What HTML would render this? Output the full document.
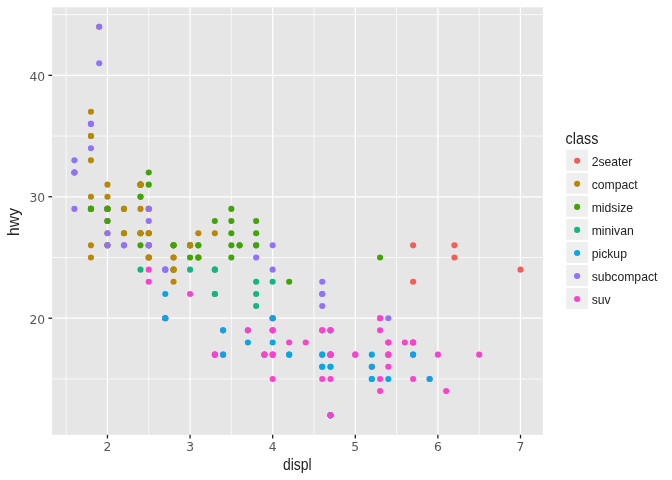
<!DOCTYPE html>
<html><head><meta charset="utf-8"><title>mpg scatter</title>
<style>html,body{margin:0;padding:0;background:#fff}svg{display:block;will-change:transform}</style></head>
<body>
<svg width="672" height="480" viewBox="0 0 672 480" font-family='"Liberation Sans", Arial, sans-serif'>
<rect width="672" height="480" fill="#fff"/>
<rect x="52.1" y="7.33" width="490.70" height="427.47" fill="#E6E6E6"/>
<g stroke="#fff" stroke-width="0.75" fill="none">
<line x1="52.1" x2="542.8" y1="378.94" y2="378.94"/>
<line x1="52.1" x2="542.8" y1="257.50" y2="257.50"/>
<line x1="52.1" x2="542.8" y1="136.06" y2="136.06"/>
<line x1="52.1" x2="542.8" y1="14.62" y2="14.62"/>
<line y1="7.33" y2="434.8" x1="66.14" x2="66.14"/>
<line y1="7.33" y2="434.8" x1="148.75" x2="148.75"/>
<line y1="7.33" y2="434.8" x1="231.36" x2="231.36"/>
<line y1="7.33" y2="434.8" x1="313.97" x2="313.97"/>
<line y1="7.33" y2="434.8" x1="396.58" x2="396.58"/>
<line y1="7.33" y2="434.8" x1="479.19" x2="479.19"/>
</g>
<g stroke="#fff" stroke-width="1.25" fill="none">
<line x1="52.1" x2="542.8" y1="318.22" y2="318.22"/>
<line x1="52.1" x2="542.8" y1="196.78" y2="196.78"/>
<line x1="52.1" x2="542.8" y1="75.34" y2="75.34"/>
<line y1="7.33" y2="434.8" x1="107.45" x2="107.45"/>
<line y1="7.33" y2="434.8" x1="190.06" x2="190.06"/>
<line y1="7.33" y2="434.8" x1="272.67" x2="272.67"/>
<line y1="7.33" y2="434.8" x1="355.28" x2="355.28"/>
<line y1="7.33" y2="434.8" x1="437.89" x2="437.89"/>
<line y1="7.33" y2="434.8" x1="520.50" x2="520.50"/>
</g>
<g stroke="none">
<circle cx="90.93" cy="208.92" r="3.05" fill="#B78800"/>
<circle cx="90.93" cy="208.92" r="3.05" fill="#B78800"/>
<circle cx="107.45" cy="184.63" r="3.05" fill="#B78800"/>
<circle cx="107.45" cy="196.78" r="3.05" fill="#B78800"/>
<circle cx="173.54" cy="245.35" r="3.05" fill="#B78800"/>
<circle cx="173.54" cy="245.35" r="3.05" fill="#B78800"/>
<circle cx="198.32" cy="233.21" r="3.05" fill="#B78800"/>
<circle cx="90.93" cy="245.35" r="3.05" fill="#B78800"/>
<circle cx="90.93" cy="257.50" r="3.05" fill="#B78800"/>
<circle cx="107.45" cy="221.06" r="3.05" fill="#B78800"/>
<circle cx="107.45" cy="233.21" r="3.05" fill="#B78800"/>
<circle cx="173.54" cy="257.50" r="3.05" fill="#B78800"/>
<circle cx="173.54" cy="257.50" r="3.05" fill="#B78800"/>
<circle cx="198.32" cy="257.50" r="3.05" fill="#B78800"/>
<circle cx="198.32" cy="257.50" r="3.05" fill="#B78800"/>
<circle cx="173.54" cy="269.64" r="3.05" fill="#3FA500"/>
<circle cx="198.32" cy="257.50" r="3.05" fill="#3FA500"/>
<circle cx="289.19" cy="281.79" r="3.05" fill="#3FA500"/>
<circle cx="380.06" cy="318.22" r="3.05" fill="#F943CA"/>
<circle cx="380.06" cy="378.94" r="3.05" fill="#F943CA"/>
<circle cx="380.06" cy="318.22" r="3.05" fill="#F943CA"/>
<circle cx="413.10" cy="354.65" r="3.05" fill="#F943CA"/>
<circle cx="437.89" cy="354.65" r="3.05" fill="#F943CA"/>
<circle cx="413.10" cy="245.35" r="3.05" fill="#F25C59"/>
<circle cx="413.10" cy="281.79" r="3.05" fill="#F25C59"/>
<circle cx="454.41" cy="245.35" r="3.05" fill="#F25C59"/>
<circle cx="454.41" cy="257.50" r="3.05" fill="#F25C59"/>
<circle cx="520.50" cy="269.64" r="3.05" fill="#F25C59"/>
<circle cx="380.06" cy="330.36" r="3.05" fill="#F943CA"/>
<circle cx="380.06" cy="391.08" r="3.05" fill="#F943CA"/>
<circle cx="413.10" cy="378.94" r="3.05" fill="#F943CA"/>
<circle cx="479.19" cy="354.65" r="3.05" fill="#F943CA"/>
<circle cx="140.49" cy="233.21" r="3.05" fill="#3FA500"/>
<circle cx="140.49" cy="196.78" r="3.05" fill="#3FA500"/>
<circle cx="198.32" cy="245.35" r="3.05" fill="#3FA500"/>
<circle cx="231.36" cy="208.92" r="3.05" fill="#3FA500"/>
<circle cx="239.62" cy="245.35" r="3.05" fill="#3FA500"/>
<circle cx="140.49" cy="269.64" r="3.05" fill="#14B483"/>
<circle cx="190.06" cy="269.64" r="3.05" fill="#14B483"/>
<circle cx="214.84" cy="293.93" r="3.05" fill="#14B483"/>
<circle cx="214.84" cy="293.93" r="3.05" fill="#14B483"/>
<circle cx="214.84" cy="269.64" r="3.05" fill="#14B483"/>
<circle cx="214.84" cy="269.64" r="3.05" fill="#14B483"/>
<circle cx="214.84" cy="354.65" r="3.05" fill="#14B483"/>
<circle cx="256.15" cy="293.93" r="3.05" fill="#14B483"/>
<circle cx="256.15" cy="306.07" r="3.05" fill="#14B483"/>
<circle cx="256.15" cy="281.79" r="3.05" fill="#14B483"/>
<circle cx="272.67" cy="281.79" r="3.05" fill="#14B483"/>
<circle cx="247.88" cy="330.36" r="3.05" fill="#08A6E5"/>
<circle cx="247.88" cy="342.51" r="3.05" fill="#08A6E5"/>
<circle cx="264.41" cy="354.65" r="3.05" fill="#08A6E5"/>
<circle cx="264.41" cy="354.65" r="3.05" fill="#08A6E5"/>
<circle cx="330.49" cy="330.36" r="3.05" fill="#08A6E5"/>
<circle cx="330.49" cy="330.36" r="3.05" fill="#08A6E5"/>
<circle cx="330.49" cy="415.37" r="3.05" fill="#08A6E5"/>
<circle cx="371.80" cy="354.65" r="3.05" fill="#08A6E5"/>
<circle cx="371.80" cy="378.94" r="3.05" fill="#08A6E5"/>
<circle cx="264.41" cy="354.65" r="3.05" fill="#F943CA"/>
<circle cx="330.49" cy="354.65" r="3.05" fill="#F943CA"/>
<circle cx="330.49" cy="415.37" r="3.05" fill="#F943CA"/>
<circle cx="330.49" cy="354.65" r="3.05" fill="#F943CA"/>
<circle cx="371.80" cy="366.79" r="3.05" fill="#F943CA"/>
<circle cx="413.10" cy="342.51" r="3.05" fill="#F943CA"/>
<circle cx="429.63" cy="378.94" r="3.05" fill="#F943CA"/>
<circle cx="330.49" cy="366.79" r="3.05" fill="#08A6E5"/>
<circle cx="330.49" cy="415.37" r="3.05" fill="#08A6E5"/>
<circle cx="330.49" cy="354.65" r="3.05" fill="#08A6E5"/>
<circle cx="330.49" cy="354.65" r="3.05" fill="#08A6E5"/>
<circle cx="330.49" cy="366.79" r="3.05" fill="#08A6E5"/>
<circle cx="330.49" cy="415.37" r="3.05" fill="#08A6E5"/>
<circle cx="371.80" cy="378.94" r="3.05" fill="#08A6E5"/>
<circle cx="371.80" cy="366.79" r="3.05" fill="#08A6E5"/>
<circle cx="413.10" cy="354.65" r="3.05" fill="#08A6E5"/>
<circle cx="429.63" cy="378.94" r="3.05" fill="#08A6E5"/>
<circle cx="322.23" cy="354.65" r="3.05" fill="#F943CA"/>
<circle cx="388.32" cy="354.65" r="3.05" fill="#F943CA"/>
<circle cx="388.32" cy="342.51" r="3.05" fill="#F943CA"/>
<circle cx="272.67" cy="354.65" r="3.05" fill="#F943CA"/>
<circle cx="272.67" cy="330.36" r="3.05" fill="#F943CA"/>
<circle cx="272.67" cy="354.65" r="3.05" fill="#F943CA"/>
<circle cx="272.67" cy="330.36" r="3.05" fill="#F943CA"/>
<circle cx="322.23" cy="330.36" r="3.05" fill="#F943CA"/>
<circle cx="355.28" cy="354.65" r="3.05" fill="#F943CA"/>
<circle cx="289.19" cy="354.65" r="3.05" fill="#08A6E5"/>
<circle cx="289.19" cy="354.65" r="3.05" fill="#08A6E5"/>
<circle cx="322.23" cy="366.79" r="3.05" fill="#08A6E5"/>
<circle cx="322.23" cy="366.79" r="3.05" fill="#08A6E5"/>
<circle cx="322.23" cy="354.65" r="3.05" fill="#08A6E5"/>
<circle cx="388.32" cy="378.94" r="3.05" fill="#08A6E5"/>
<circle cx="388.32" cy="354.65" r="3.05" fill="#08A6E5"/>
<circle cx="256.15" cy="245.35" r="3.05" fill="#9072FF"/>
<circle cx="256.15" cy="257.50" r="3.05" fill="#9072FF"/>
<circle cx="272.67" cy="245.35" r="3.05" fill="#9072FF"/>
<circle cx="272.67" cy="269.64" r="3.05" fill="#9072FF"/>
<circle cx="322.23" cy="306.07" r="3.05" fill="#9072FF"/>
<circle cx="322.23" cy="293.93" r="3.05" fill="#9072FF"/>
<circle cx="322.23" cy="281.79" r="3.05" fill="#9072FF"/>
<circle cx="322.23" cy="293.93" r="3.05" fill="#9072FF"/>
<circle cx="388.32" cy="318.22" r="3.05" fill="#9072FF"/>
<circle cx="74.40" cy="160.34" r="3.05" fill="#9072FF"/>
<circle cx="74.40" cy="172.49" r="3.05" fill="#9072FF"/>
<circle cx="74.40" cy="172.49" r="3.05" fill="#9072FF"/>
<circle cx="74.40" cy="208.92" r="3.05" fill="#9072FF"/>
<circle cx="74.40" cy="172.49" r="3.05" fill="#9072FF"/>
<circle cx="90.93" cy="148.20" r="3.05" fill="#9072FF"/>
<circle cx="90.93" cy="123.91" r="3.05" fill="#9072FF"/>
<circle cx="90.93" cy="123.91" r="3.05" fill="#9072FF"/>
<circle cx="107.45" cy="208.92" r="3.05" fill="#9072FF"/>
<circle cx="140.49" cy="245.35" r="3.05" fill="#3FA500"/>
<circle cx="140.49" cy="233.21" r="3.05" fill="#3FA500"/>
<circle cx="140.49" cy="196.78" r="3.05" fill="#3FA500"/>
<circle cx="140.49" cy="184.63" r="3.05" fill="#3FA500"/>
<circle cx="148.75" cy="245.35" r="3.05" fill="#3FA500"/>
<circle cx="148.75" cy="245.35" r="3.05" fill="#3FA500"/>
<circle cx="214.84" cy="221.06" r="3.05" fill="#3FA500"/>
<circle cx="107.45" cy="245.35" r="3.05" fill="#9072FF"/>
<circle cx="107.45" cy="208.92" r="3.05" fill="#9072FF"/>
<circle cx="107.45" cy="221.06" r="3.05" fill="#9072FF"/>
<circle cx="107.45" cy="233.21" r="3.05" fill="#9072FF"/>
<circle cx="165.27" cy="269.64" r="3.05" fill="#9072FF"/>
<circle cx="165.27" cy="269.64" r="3.05" fill="#9072FF"/>
<circle cx="165.27" cy="269.64" r="3.05" fill="#9072FF"/>
<circle cx="190.06" cy="293.93" r="3.05" fill="#F943CA"/>
<circle cx="247.88" cy="330.36" r="3.05" fill="#F943CA"/>
<circle cx="272.67" cy="318.22" r="3.05" fill="#F943CA"/>
<circle cx="330.49" cy="354.65" r="3.05" fill="#F943CA"/>
<circle cx="330.49" cy="415.37" r="3.05" fill="#F943CA"/>
<circle cx="330.49" cy="330.36" r="3.05" fill="#F943CA"/>
<circle cx="413.10" cy="342.51" r="3.05" fill="#F943CA"/>
<circle cx="446.15" cy="391.08" r="3.05" fill="#F943CA"/>
<circle cx="272.67" cy="378.94" r="3.05" fill="#F943CA"/>
<circle cx="289.19" cy="342.51" r="3.05" fill="#F943CA"/>
<circle cx="305.71" cy="342.51" r="3.05" fill="#F943CA"/>
<circle cx="322.23" cy="378.94" r="3.05" fill="#F943CA"/>
<circle cx="388.32" cy="354.65" r="3.05" fill="#F943CA"/>
<circle cx="388.32" cy="366.79" r="3.05" fill="#F943CA"/>
<circle cx="388.32" cy="342.51" r="3.05" fill="#F943CA"/>
<circle cx="272.67" cy="354.65" r="3.05" fill="#F943CA"/>
<circle cx="272.67" cy="330.36" r="3.05" fill="#F943CA"/>
<circle cx="322.23" cy="330.36" r="3.05" fill="#F943CA"/>
<circle cx="355.28" cy="354.65" r="3.05" fill="#F943CA"/>
<circle cx="140.49" cy="208.92" r="3.05" fill="#B78800"/>
<circle cx="140.49" cy="233.21" r="3.05" fill="#B78800"/>
<circle cx="148.75" cy="184.63" r="3.05" fill="#3FA500"/>
<circle cx="148.75" cy="172.49" r="3.05" fill="#3FA500"/>
<circle cx="231.36" cy="233.21" r="3.05" fill="#3FA500"/>
<circle cx="231.36" cy="245.35" r="3.05" fill="#3FA500"/>
<circle cx="190.06" cy="245.35" r="3.05" fill="#3FA500"/>
<circle cx="190.06" cy="257.50" r="3.05" fill="#3FA500"/>
<circle cx="231.36" cy="257.50" r="3.05" fill="#3FA500"/>
<circle cx="214.84" cy="354.65" r="3.05" fill="#F943CA"/>
<circle cx="214.84" cy="354.65" r="3.05" fill="#F943CA"/>
<circle cx="272.67" cy="318.22" r="3.05" fill="#F943CA"/>
<circle cx="404.84" cy="342.51" r="3.05" fill="#F943CA"/>
<circle cx="198.32" cy="245.35" r="3.05" fill="#3FA500"/>
<circle cx="256.15" cy="245.35" r="3.05" fill="#3FA500"/>
<circle cx="256.15" cy="233.21" r="3.05" fill="#3FA500"/>
<circle cx="256.15" cy="221.06" r="3.05" fill="#3FA500"/>
<circle cx="380.06" cy="257.50" r="3.05" fill="#3FA500"/>
<circle cx="148.75" cy="257.50" r="3.05" fill="#F943CA"/>
<circle cx="148.75" cy="269.64" r="3.05" fill="#F943CA"/>
<circle cx="148.75" cy="233.21" r="3.05" fill="#F943CA"/>
<circle cx="148.75" cy="257.50" r="3.05" fill="#F943CA"/>
<circle cx="148.75" cy="245.35" r="3.05" fill="#F943CA"/>
<circle cx="148.75" cy="281.79" r="3.05" fill="#F943CA"/>
<circle cx="123.97" cy="245.35" r="3.05" fill="#9072FF"/>
<circle cx="123.97" cy="245.35" r="3.05" fill="#9072FF"/>
<circle cx="148.75" cy="245.35" r="3.05" fill="#9072FF"/>
<circle cx="148.75" cy="245.35" r="3.05" fill="#9072FF"/>
<circle cx="148.75" cy="257.50" r="3.05" fill="#B78800"/>
<circle cx="148.75" cy="233.21" r="3.05" fill="#B78800"/>
<circle cx="148.75" cy="257.50" r="3.05" fill="#B78800"/>
<circle cx="148.75" cy="233.21" r="3.05" fill="#B78800"/>
<circle cx="165.27" cy="318.22" r="3.05" fill="#F943CA"/>
<circle cx="165.27" cy="318.22" r="3.05" fill="#F943CA"/>
<circle cx="223.10" cy="330.36" r="3.05" fill="#F943CA"/>
<circle cx="223.10" cy="354.65" r="3.05" fill="#F943CA"/>
<circle cx="272.67" cy="318.22" r="3.05" fill="#F943CA"/>
<circle cx="330.49" cy="354.65" r="3.05" fill="#F943CA"/>
<circle cx="123.97" cy="208.92" r="3.05" fill="#3FA500"/>
<circle cx="123.97" cy="233.21" r="3.05" fill="#3FA500"/>
<circle cx="140.49" cy="184.63" r="3.05" fill="#3FA500"/>
<circle cx="140.49" cy="184.63" r="3.05" fill="#3FA500"/>
<circle cx="190.06" cy="245.35" r="3.05" fill="#3FA500"/>
<circle cx="190.06" cy="245.35" r="3.05" fill="#3FA500"/>
<circle cx="231.36" cy="221.06" r="3.05" fill="#3FA500"/>
<circle cx="123.97" cy="233.21" r="3.05" fill="#B78800"/>
<circle cx="123.97" cy="208.92" r="3.05" fill="#B78800"/>
<circle cx="140.49" cy="184.63" r="3.05" fill="#B78800"/>
<circle cx="140.49" cy="184.63" r="3.05" fill="#B78800"/>
<circle cx="190.06" cy="245.35" r="3.05" fill="#B78800"/>
<circle cx="190.06" cy="245.35" r="3.05" fill="#B78800"/>
<circle cx="214.84" cy="233.21" r="3.05" fill="#B78800"/>
<circle cx="90.93" cy="196.78" r="3.05" fill="#B78800"/>
<circle cx="90.93" cy="160.34" r="3.05" fill="#B78800"/>
<circle cx="90.93" cy="136.06" r="3.05" fill="#B78800"/>
<circle cx="90.93" cy="111.77" r="3.05" fill="#B78800"/>
<circle cx="90.93" cy="136.06" r="3.05" fill="#B78800"/>
<circle cx="330.49" cy="378.94" r="3.05" fill="#F943CA"/>
<circle cx="413.10" cy="342.51" r="3.05" fill="#F943CA"/>
<circle cx="165.27" cy="318.22" r="3.05" fill="#08A6E5"/>
<circle cx="165.27" cy="318.22" r="3.05" fill="#08A6E5"/>
<circle cx="165.27" cy="293.93" r="3.05" fill="#08A6E5"/>
<circle cx="223.10" cy="354.65" r="3.05" fill="#08A6E5"/>
<circle cx="223.10" cy="330.36" r="3.05" fill="#08A6E5"/>
<circle cx="272.67" cy="342.51" r="3.05" fill="#08A6E5"/>
<circle cx="272.67" cy="318.22" r="3.05" fill="#08A6E5"/>
<circle cx="107.45" cy="208.92" r="3.05" fill="#B78800"/>
<circle cx="107.45" cy="245.35" r="3.05" fill="#B78800"/>
<circle cx="107.45" cy="208.92" r="3.05" fill="#B78800"/>
<circle cx="107.45" cy="208.92" r="3.05" fill="#B78800"/>
<circle cx="173.54" cy="269.64" r="3.05" fill="#B78800"/>
<circle cx="99.19" cy="26.76" r="3.05" fill="#B78800"/>
<circle cx="107.45" cy="208.92" r="3.05" fill="#B78800"/>
<circle cx="107.45" cy="245.35" r="3.05" fill="#B78800"/>
<circle cx="107.45" cy="208.92" r="3.05" fill="#B78800"/>
<circle cx="107.45" cy="208.92" r="3.05" fill="#B78800"/>
<circle cx="148.75" cy="208.92" r="3.05" fill="#B78800"/>
<circle cx="148.75" cy="208.92" r="3.05" fill="#B78800"/>
<circle cx="173.54" cy="281.79" r="3.05" fill="#B78800"/>
<circle cx="173.54" cy="269.64" r="3.05" fill="#B78800"/>
<circle cx="99.19" cy="26.76" r="3.05" fill="#9072FF"/>
<circle cx="99.19" cy="63.19" r="3.05" fill="#9072FF"/>
<circle cx="107.45" cy="208.92" r="3.05" fill="#9072FF"/>
<circle cx="107.45" cy="245.35" r="3.05" fill="#9072FF"/>
<circle cx="148.75" cy="221.06" r="3.05" fill="#9072FF"/>
<circle cx="148.75" cy="208.92" r="3.05" fill="#9072FF"/>
<circle cx="90.93" cy="208.92" r="3.05" fill="#3FA500"/>
<circle cx="90.93" cy="208.92" r="3.05" fill="#3FA500"/>
<circle cx="107.45" cy="221.06" r="3.05" fill="#3FA500"/>
<circle cx="107.45" cy="208.92" r="3.05" fill="#3FA500"/>
<circle cx="173.54" cy="245.35" r="3.05" fill="#3FA500"/>
<circle cx="173.54" cy="245.35" r="3.05" fill="#3FA500"/>
<circle cx="239.62" cy="245.35" r="3.05" fill="#3FA500"/>
</g>
<g stroke="#222" stroke-width="1.3">
<line x1="48.43" x2="52.1" y1="318.22" y2="318.22"/>
<line x1="48.43" x2="52.1" y1="196.78" y2="196.78"/>
<line x1="48.43" x2="52.1" y1="75.34" y2="75.34"/>
<line y1="434.8" y2="438.47" x1="107.45" x2="107.45"/>
<line y1="434.8" y2="438.47" x1="190.06" x2="190.06"/>
<line y1="434.8" y2="438.47" x1="272.67" x2="272.67"/>
<line y1="434.8" y2="438.47" x1="355.28" x2="355.28"/>
<line y1="434.8" y2="438.47" x1="437.89" x2="437.89"/>
<line y1="434.8" y2="438.47" x1="520.50" x2="520.50"/>
</g>
<g fill="#555" font-size="12.3" font-family='"DejaVu Sans", "Liberation Sans", sans-serif'>
<text x="45.20" y="323.92" text-anchor="end">20</text>
<text x="45.20" y="202.48" text-anchor="end">30</text>
<text x="45.20" y="81.04" text-anchor="end">40</text>
<text x="107.45" y="451.2" text-anchor="middle">2</text>
<text x="190.06" y="451.2" text-anchor="middle">3</text>
<text x="272.67" y="451.2" text-anchor="middle">4</text>
<text x="355.28" y="451.2" text-anchor="middle">5</text>
<text x="437.89" y="451.2" text-anchor="middle">6</text>
<text x="520.50" y="451.2" text-anchor="middle">7</text>
</g>
<text transform="translate(297.25,469.9) scale(0.97,1.085)" font-size="14.4" text-anchor="middle" fill="#222">displ</text>
<text transform="translate(18.8,221.97) rotate(-90) scale(1.09,1.085)" font-size="14.4" text-anchor="middle" fill="#222">hwy</text>
<text transform="translate(565.6,143.7) scale(1,1.085)" font-size="14.4" fill="#222">class</text>
<rect x="566.25" y="149.73" width="21.65" height="21.0" fill="#EFEFEF"/>
<circle cx="577.12" cy="160.80" r="3.05" fill="#F25C59"/>
<text x="591.7" y="165.80" font-size="12.2" fill="#222">2seater</text>
<rect x="566.25" y="172.77" width="21.65" height="21.0" fill="#EFEFEF"/>
<circle cx="577.12" cy="183.84" r="3.05" fill="#B78800"/>
<text x="591.7" y="188.84" font-size="12.2" fill="#222">compact</text>
<rect x="566.25" y="195.81" width="21.65" height="21.0" fill="#EFEFEF"/>
<circle cx="577.12" cy="206.88" r="3.05" fill="#3FA500"/>
<text x="591.7" y="211.88" font-size="12.2" fill="#222">midsize</text>
<rect x="566.25" y="218.85" width="21.65" height="21.0" fill="#EFEFEF"/>
<circle cx="577.12" cy="229.92" r="3.05" fill="#14B483"/>
<text x="591.7" y="234.92" font-size="12.2" fill="#222">minivan</text>
<rect x="566.25" y="241.89" width="21.65" height="21.0" fill="#EFEFEF"/>
<circle cx="577.12" cy="252.96" r="3.05" fill="#08A6E5"/>
<text x="591.7" y="257.96" font-size="12.2" fill="#222">pickup</text>
<rect x="566.25" y="264.93" width="21.65" height="21.0" fill="#EFEFEF"/>
<circle cx="577.12" cy="276.00" r="3.05" fill="#9072FF"/>
<text x="591.7" y="281.00" font-size="12.2" fill="#222">subcompact</text>
<rect x="566.25" y="287.97" width="21.65" height="21.0" fill="#EFEFEF"/>
<circle cx="577.12" cy="299.04" r="3.05" fill="#F943CA"/>
<text x="591.7" y="304.04" font-size="12.2" fill="#222">suv</text>
</svg>
</body></html>
